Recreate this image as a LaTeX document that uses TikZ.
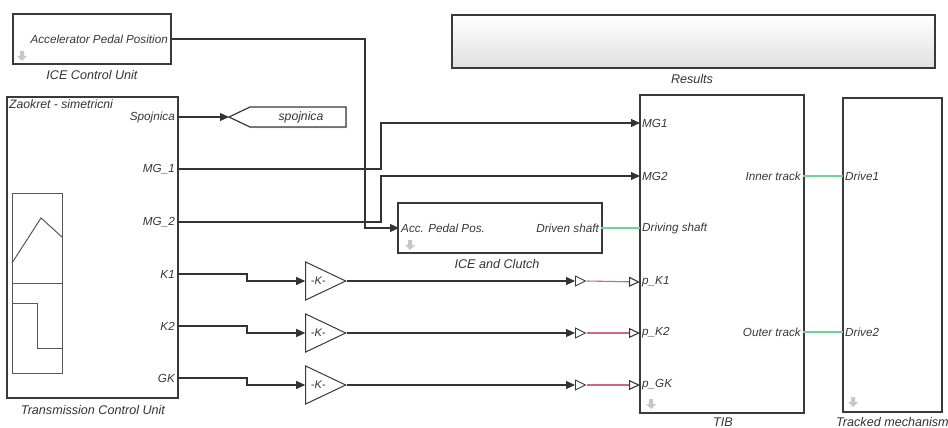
\documentclass[tikz,border=0pt]{standalone}
\usepackage{fontspec}
\setmainfont{Liberation Sans}
\usepackage{xcolor}
\usetikzlibrary{positioning, calc, arrows.meta, shapes.geometric, shadows}

\definecolor{physgreen}{RGB}{105,215,145}
\definecolor{pslink}{RGB}{205,105,125}
\definecolor{edgegray}{RGB}{58,58,58}

\begin{document}
\begin{tikzpicture}[x=1pt, y=-1pt, >={Triangle[length=9pt,width=8pt]},
    block/.style={draw=edgegray, line width=1.5pt, fill=white, inner sep=0pt,
        drop shadow={shadow xshift=1.2pt, shadow yshift=-1.2pt, opacity=0.3}},
    portlbl/.style={inner sep=2pt, text=black!78, font=\itshape\fontsize{11.7}{13}\selectfont},
    caption/.style={inner sep=0pt, text=black!80, font=\itshape\fontsize{12.6}{14}\selectfont},
    sig/.style={draw=black!80, line width=1.1pt},
    physline/.style={draw=physgreen, line width=1.6pt},
    pssig/.style={draw=pslink, line width=1.1pt},
    psend/.style={-{Triangle[open, length=11pt, width=10pt, color=edgegray]}},
    gain/.style={isosceles triangle, isosceles triangle stretches, draw=edgegray, line width=1pt,
        fill=white, inner sep=0pt, minimum width=38pt, minimum height=40pt,
        font=\itshape\fontsize{11}{12}\selectfont, text=black!80},
    psconv/.style={isosceles triangle, isosceles triangle stretches, draw=edgegray, line width=0.9pt,
        fill=white, inner sep=0pt, minimum width=10pt, minimum height=10pt},
    icon/.style={draw=black!65, line width=1pt},
    flowarrow/.pic={\fill[black!22] (-2,-5) -- (2,-5) -- (2,0) -- (5,0) -- (0,5) -- (-5,0) -- (-2,0) -- cycle;}
    ]
    \useasboundingbox (0,0) rectangle (948,428);

    % --- Blocks ---
    \node[block, minimum width=158pt, minimum height=50pt] (ICEctrl) at (92,39) {};
    \node[block, minimum width=171pt, minimum height=301pt] (TCU) at (92.5,247.5) {};
    \node[block, minimum width=204pt, minimum height=50pt] (ICE) at (500,228) {};
    \node[block, minimum width=164pt, minimum height=318pt] (TIB) at (722,254) {};
    \node[block, minimum width=99pt, minimum height=314pt] (Track) at (892.5,255) {};
    \node[block, top color=white, bottom color=black!12, minimum width=483pt, minimum height=53pt] (Results) at (693.5,41.5) {};

    % --- Block captions ---
    \node[caption] (capICEctrl) at (92,75) {ICE Control Unit};
    \node[caption] (capTCU) at (93,410) {Transmission Control Unit};
    \node[caption] (capICE) at (497,264) {ICE and Clutch};
    \node[caption] (capResults) at (692,79) {Results};
    \node[caption] (capTIB) at (723,422) {TIB};
    \node[caption, anchor=west] (capTrack) at (836,422) {Tracked mechanism};

    % --- Library link arrows ---
    \pic at (22,56) {flowarrow};
    \pic at (410,245) {flowarrow};
    \pic at (651,404) {flowarrow};
    \pic at (853,402) {flowarrow};

    % --- ICE Control Unit port ---
    \node[portlbl, anchor=east] (iceAPP) at (170,39) {Accelerator Pedal Position};

    % --- Transmission Control Unit contents ---
    \node[caption, anchor=north west, font=\itshape\fontsize{12.2}{14}\selectfont] (tcuName) at (9,99) {Zaokret - simetricni};
    \draw[icon] (12,193) rectangle (62,373);
    \draw[icon] (12,263) -- (41,218) -- (62,237);
    \draw[icon] (12,283) -- (62,283);
    \draw[icon] (12,303) -- (37,303) -- (37,348) -- (62,348);
    \node[portlbl, anchor=east] (tcuSpoj) at (177,117) {Spojnica};
    \node[portlbl, anchor=east] (tcuMG1) at (177,169) {MG\_1};
    \node[portlbl, anchor=east] (tcuMG2) at (177,222) {MG\_2};
    \node[portlbl, anchor=east] (tcuK1) at (177,274) {K1};
    \node[portlbl, anchor=east] (tcuK2) at (177,326) {K2};
    \node[portlbl, anchor=east] (tcuGK) at (177,378) {GK};

    % --- Goto tag ---
    \draw[block, line width=1.2pt] (229,117) -- (250,107) -- (346,107) -- (346,127) -- (250,127) -- cycle;
    \coordinate (gotoTip) at (229,117);
    \node[caption, font=\itshape\fontsize{12.2}{14}\selectfont] (gotoTxt) at (301,117) {spojnica};

    % --- ICE and Clutch ports ---
    \node[portlbl, anchor=west] (iceAcc) at (399,228) {Acc. Pedal Pos.};
    \node[portlbl, anchor=east] (iceShaft) at (601,228) {Driven shaft};

    % --- TIB ports ---
    \node[portlbl, anchor=west] (tibMG1) at (640,123) {MG1};
    \node[portlbl, anchor=west] (tibMG2) at (640,176) {MG2};
    \node[portlbl, anchor=west] (tibShaft) at (640,228) {Driving shaft};
    \node[portlbl, anchor=west] (tibK1) at (640,282) {p\_K1};
    \node[portlbl, anchor=west] (tibK2) at (640,333) {p\_K2};
    \node[portlbl, anchor=west] (tibGK) at (640,385) {p\_GK};
    \node[portlbl, anchor=east] (tibInner) at (803,176) {Inner track};
    \node[portlbl, anchor=east] (tibOuter) at (803,332) {Outer track};

    % --- Tracked mechanism ports ---
    \node[portlbl, anchor=west] (trDrive1) at (843,176) {Drive1};
    \node[portlbl, anchor=west] (trDrive2) at (843,332) {Drive2};

    % --- Gains and converters ---
    \node[gain, anchor=east] (gK1) at (347,281) {-K-};
    \node[gain, anchor=east] (gK2) at (347,333) {-K-};
    \node[gain, anchor=east] (gGK) at (347,385) {-K-};
    \node[psconv, anchor=west] (cvK1) at (575,281) {};
    \node[psconv, anchor=west] (cvK2) at (575,333) {};
    \node[psconv, anchor=west] (cvGK) at (575,385) {};

    % --- Signal lines ---
    \draw[sig, ->] (iceAPP.east) -- (365,39) |- (iceAcc.west);
    \draw[sig, ->] (tcuSpoj.east) -- (gotoTip);
    \draw[sig, ->] (tcuMG1.east) -- (381,169) |- (tibMG1.west);
    \draw[sig, ->] (tcuMG2.east) -- (381,222) |- (tibMG2.west);
    \draw[sig, ->] (tcuK1.east) -- (247,274) |- (gK1.west);
    \draw[sig, ->] (tcuK2.east) -- (247,326) |- (gK2.west);
    \draw[sig, ->] (tcuGK.east) -- (247,378) |- (gGK.west);
    \draw[sig, ->] (gK1.east) -- (cvK1.west);
    \draw[sig, ->] (gK2.east) -- (cvK2.west);
    \draw[sig, ->] (gGK.east) -- (cvGK.west);

    % --- Physical signal lines ---
    \draw[pssig, psend] (cvK1.east) -- (tibK1.west);
    \draw[pssig, psend] (cvK2.east) -- (tibK2.west);
    \draw[pssig, psend] (cvGK.east) -- (tibGK.west);

    % --- Mechanical connections ---
    \draw[physline] (iceShaft.east) -- (tibShaft.west);
    \draw[physline] (tibInner.east) -- (trDrive1.west);
    \draw[physline] (tibOuter.east) -- (trDrive2.west);

\end{tikzpicture}
\end{document}
